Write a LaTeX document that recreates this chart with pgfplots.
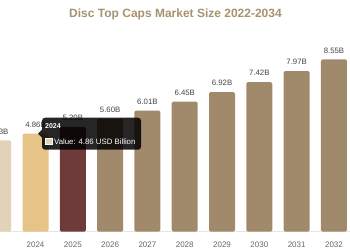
\documentclass[border=0pt]{standalone}
\usepackage{pgfplots}
\pgfplotsset{compat=1.18}
\usetikzlibrary{calc}
\usepackage{fontspec}
\setmainfont{Liberation Sans}

\definecolor{barlight}{HTML}{E2D3B8}
\definecolor{bargold}{HTML}{E6C386}
\definecolor{barmaroon}{HTML}{6E3A3A}
\definecolor{barbrown}{HTML}{A08A6B}
\definecolor{titlebrown}{HTML}{A8926F}
\definecolor{labelgray}{HTML}{444444}
\definecolor{tickgray}{HTML}{666666}

\begin{document}
\begin{tikzpicture}
% fixed 350 x 250 canvas; everything outside is cut off
\useasboundingbox (0pt,0pt) rectangle (350pt,250pt);
\clip (0pt,0pt) rectangle (350pt,250pt);
\begin{axis}[
  at={(0pt,18.3pt)}, anchor=south west,
  scale only axis,
  width=350pt, height=201.6pt,
  xmin=0.048, xmax=9.43,
  ymin=0, ymax=10,
  ybar, bar width=26pt,
  axis y line=none,
  axis x line*=bottom,
  x axis line style={draw=black!10, line width=0.8pt, -},
  xtick={0,...,9},
  xticklabels={2023,2024,2025,2026,2027,2028,2029,2030,2031,2032},
  xtick style={draw=none},
  xticklabel style={font=\fontsize{8}{9}\selectfont, text=tickgray, yshift=-2pt},
  clip=false,
  /pgf/number format/assume math mode=true,
  every axis plot/.append style={draw=none, bar shift=0pt, rounded corners=1.5pt},
  nodes near coords={\pgfmathprintnumber[fixed,fixed zerofill,precision=2]{\pgfplotspointmeta}B},
  every node near coord/.append style={font=\fontsize{7.8}{9}\selectfont, text=labelgray, inner sep=0pt, anchor=south, yshift=6pt},
]
\addplot[fill=barlight] coordinates {(0,4.53)};
\addplot[fill=bargold] coordinates {(1,4.86)};
\addplot[fill=barmaroon] coordinates {(2,5.20)};
\addplot[fill=barbrown] coordinates {(3,5.60) (4,6.01) (5,6.45) (6,6.92) (7,7.42) (8,7.97) (9,8.55)};
\coordinate (tip) at (axis cs:1,4.86);
\end{axis}

% hover tooltip for the 2024 bar
\begin{scope}[shift={($(tip)+(2.5pt,0pt)$)}, x=1pt, y=1pt]
\fill[black, fill opacity=0.85] (0,0) -- (4,4) -- (4,-4) -- cycle;
\fill[black, fill opacity=0.85, rounded corners=3pt] (4,16) rectangle (103,-16);
\node[anchor=west, text=white, inner sep=0pt, font=\fontsize{7}{8}\selectfont\bfseries] at (7,8) {2024};
\filldraw[fill=barlight, draw=white, line width=0.7pt] (7.5,-11) rectangle (14,-4.5);
\node[anchor=west, text=white, inner sep=0pt, font=\fontsize{7.8}{9}\selectfont] at (16,-7.5) {Value: 4.86 USD Billion};
\end{scope}

\node[text=titlebrown, font=\fontsize{12}{14}\selectfont\bfseries] at (175.5pt,236pt) {Disc Top Caps Market Size 2022-2034};
\end{tikzpicture}
\end{document}
